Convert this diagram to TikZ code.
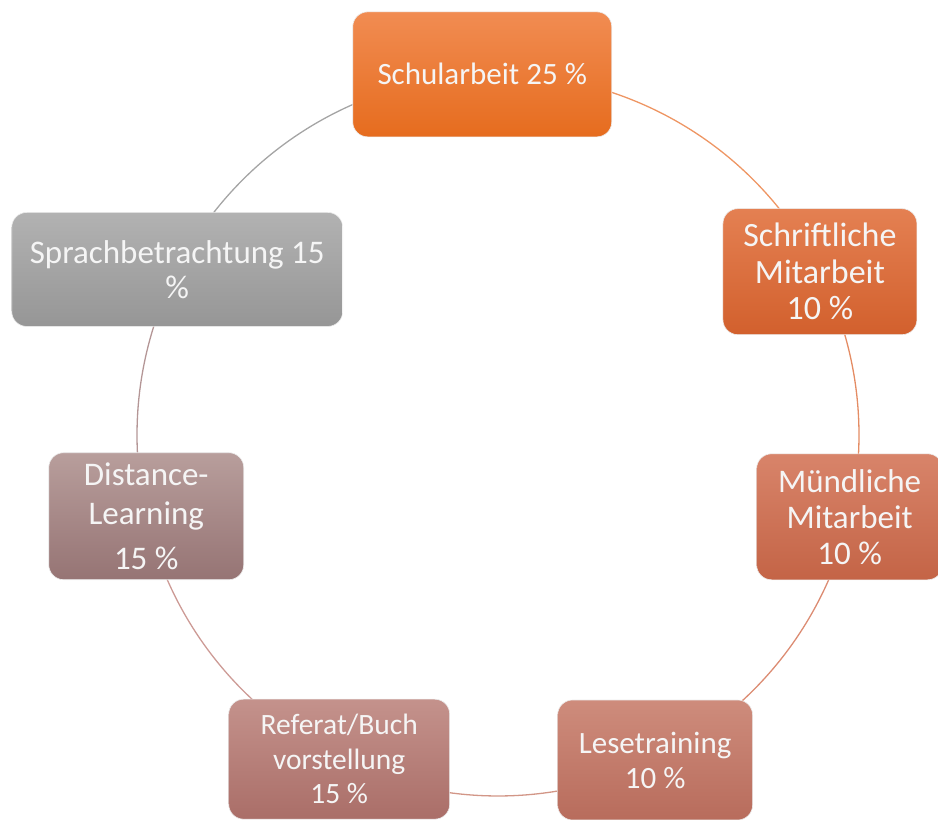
\documentclass[tikz,border=0pt]{standalone}
\usepackage{fontspec}
\setmainfont{Carlito}
\usetikzlibrary{backgrounds,calc}
\definecolor{c1t}{RGB}{241,140,82}\definecolor{c1b}{RGB}{230,108,30}
\definecolor{c2t}{RGB}{228,128,82}\definecolor{c2b}{RGB}{210,96,45}
\definecolor{c3t}{RGB}{216,132,106}\definecolor{c3b}{RGB}{196,100,70}
\definecolor{c4t}{RGB}{206,140,124}\definecolor{c4b}{RGB}{184,108,92}
\definecolor{c5t}{RGB}{196,146,140}\definecolor{c5b}{RGB}{170,110,104}
\definecolor{c6t}{RGB}{184,158,156}\definecolor{c6b}{RGB}{150,116,116}
\definecolor{c7t}{RGB}{178,178,178}\definecolor{c7b}{RGB}{150,150,150}
\definecolor{a1}{RGB}{238,150,100}
\definecolor{a2}{RGB}{228,140,100}
\definecolor{a3}{RGB}{220,140,115}
\definecolor{a4}{RGB}{210,150,135}
\definecolor{a5}{RGB}{205,155,150}
\definecolor{a6}{RGB}{180,150,150}
\definecolor{a7}{RGB}{165,165,165}
\tikzset{
  box/.style={rounded corners=15pt, draw=white!85!gray, line width=0.6pt,
    text=white!96!black, align=center, inner sep=0pt,
    font=\fontsize{31}{36}\selectfont},
  ring/.style={line width=1.3pt}
}
\begin{document}
\begin{tikzpicture}[x=1pt,y=1pt]
\useasboundingbox (0,0) rectangle (938,820);
\coordinate (C) at (498,385);
\def\R{361pt}
\node[box, top color=c1t, bottom color=c1b, minimum width=259pt, minimum height=125pt]
  (n1) at ($(C)+(92.5:\R)$) {Schularbeit 25 \%};
\node[box, top color=c2t, bottom color=c2b, minimum width=194pt, minimum height=126pt,
  font=\fontsize{34}{36.5}\selectfont]
  (n2) at ($(C)+(26.9:\R)$) {Schriftliche\\Mitarbeit\\10 \%};
\node[box, top color=c3t, bottom color=c3b, minimum width=186pt, minimum height=126pt,
  font=\fontsize{33}{36}\selectfont]
  (n3) at ($(C)+(-13.1:\R)$) {Mündliche\\Mitarbeit\\10 \%};
\node[box, top color=c4t, bottom color=c4b, minimum width=195pt, minimum height=120pt,
  font=\fontsize{31}{35}\selectfont]
  (n4) at ($(C)+(-64.2:\R)$) {Lesetraining\\10 \%};
\node[box, top color=c5t, bottom color=c5b, minimum width=221pt, minimum height=120pt,
  font=\fontsize{29.5}{34.5}\selectfont]
  (n5) at ($(C)+(-116.1:\R)$) {Referat/Buch\\vorstellung\\15 \%};
\node[box, top color=c6t, bottom color=c6b, minimum width=195pt, minimum height=127pt,
  font=\fontsize{33}{39}\selectfont]
  (n6) at ($(C)+(193:\R)$) {Distance-\\Learning\\[6pt]15 \%};
\node[box, top color=c7t, bottom color=c7b, minimum width=331pt, minimum height=114pt,
  font=\fontsize{33}{35}\selectfont]
  (n7) at ($(C)+(152.7:\R)$) {Sprachbetrachtung 15\\\%};
\begin{pgfonlayer}{background}
\draw[ring, a1] (n1.center) arc[start angle=92.5, end angle=26.9, radius=\R];
\draw[ring, a2] (n2.center) arc[start angle=26.9, end angle=-13.1, radius=\R];
\draw[ring, a3] (n3.center) arc[start angle=-13.1, end angle=-64.2, radius=\R];
\draw[ring, a4] (n4.center) arc[start angle=-64.2, end angle=-116.1, radius=\R];
\draw[ring, a5] (n5.center) arc[start angle=-116.1, end angle=-167, radius=\R];
\draw[ring, a6] (n6.center) arc[start angle=193, end angle=152.7, radius=\R];
\draw[ring, a7] (n7.center) arc[start angle=152.7, end angle=92.5, radius=\R];
\end{pgfonlayer}
\end{tikzpicture}
\end{document}
